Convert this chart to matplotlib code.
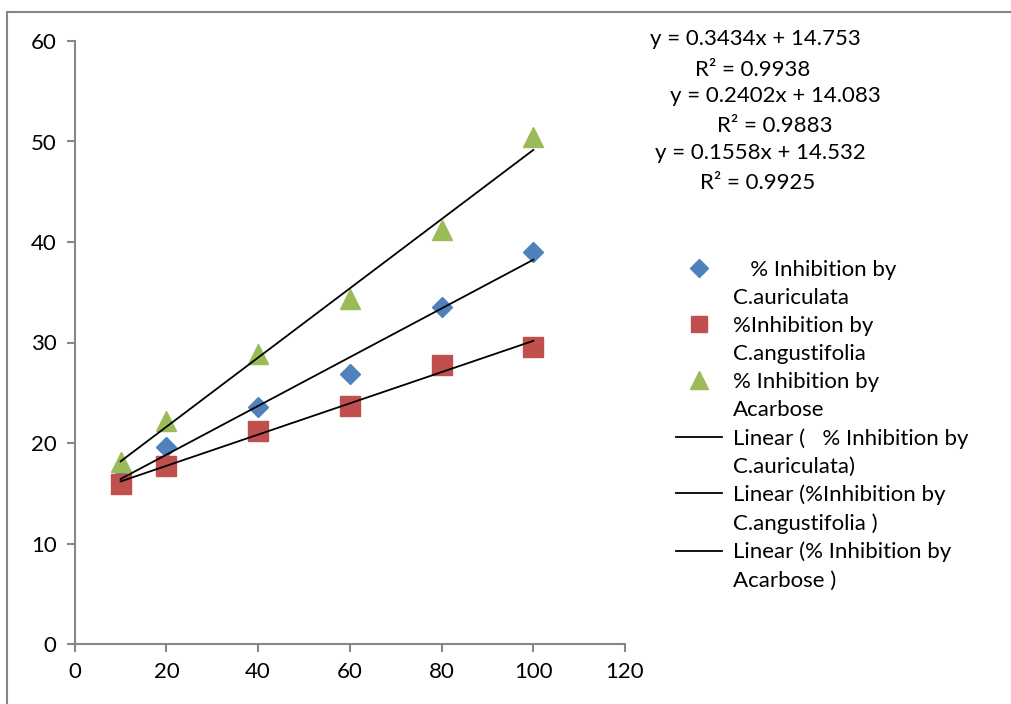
import numpy as np
import matplotlib.pyplot as plt
from matplotlib.lines import Line2D

plt.rcParams['font.family'] = ['Lato', 'DejaVu Sans']

conc = [10, 20, 40, 60, 80, 100]
auriculata = [16.5, 19.6, 23.6, 26.9, 33.5, 39.0]
angustifolia = [15.9, 17.7, 21.2, 23.7, 27.8, 29.6]
acarbose = [18.1, 22.2, 28.9, 34.3, 41.2, 50.4]

names = ['   % Inhibition by\nC.auriculata',
         '%Inhibition by\nC.angustifolia',
         '% Inhibition by\nAcarbose']
trend_names = ['Linear (   % Inhibition by\nC.auriculata)',
               'Linear (%Inhibition by\nC.angustifolia )',
               'Linear (% Inhibition by\nAcarbose )']
equations = ['y = 0.3434x + 14.753', 'R\u00b2 = 0.9938',
             'y = 0.2402x + 14.083', 'R\u00b2 = 0.9883',
             'y = 0.1558x + 14.532', 'R\u00b2 = 0.9925']

W, H = 1012, 704
fig = plt.figure(figsize=(W / 100, H / 100), dpi=100)
ax = fig.add_axes([74.7 / W, 1 - 644 / H, (625 - 74.7) / W, (644 - 41) / H])

series = [(auriculata, '#4F81BD', 'D', 10.5),
          (angustifolia, '#C0504D', 's', 14),
          (acarbose, '#9BBB59', '^', 15)]

x = np.array(conc)
for vals, col, mk, ms in series:
    ax.plot(x, vals, linestyle='none', marker=mk, color=col, markersize=ms)
for vals, col, mk, ms in series:
    k, b = np.polyfit(x, vals, 1)
    ax.plot([x.min(), x.max()], [k * x.min() + b, k * x.max() + b],
            color='black', lw=1.3)

ax.set_xlim(0, 120)
ax.set_ylim(0, 60)
ax.set_xticks(range(0, 121, 20))
ax.set_yticks(range(0, 61, 10))
for s in ['top', 'right']:
    ax.spines[s].set_visible(False)
for s in ['left', 'bottom']:
    ax.spines[s].set_color('#868686')
    ax.spines[s].set_linewidth(1.5)
ax.tick_params(direction='out', length=6, width=1.5, color='#868686',
               labelsize=16, pad=7)

# legend, one row per text line so the handle sits on the first line
blank = Line2D([], [], linestyle='none')
handles, labels = [], []
for (vals, col, mk, ms), nm in zip(series, names):
    first, second = nm.split('\n')
    handles += [Line2D([], [], linestyle='none', marker=mk, color=col,
                       markersize=ms * 0.85), blank]
    labels += [first, second]
for nm in trend_names:
    first, second = nm.split('\n')
    handles += [Line2D([], [], color='black', lw=1.3), blank]
    labels += [first, second]
leg = fig.legend(handles, labels, loc='upper left',
                 bbox_to_anchor=(676 / W, 1 - 260 / H), frameon=False,
                 fontsize=16, handlelength=2.07, handletextpad=0.5,
                 labelspacing=0.36, borderpad=0, borderaxespad=0)

eq_pos = [(755, 39), (753, 70), (775, 96), (775, 126), (760, 153), (758, 183)]
for txt, (px, py) in zip(equations, eq_pos):
    fig.text(px / W, 1 - py / H, txt, ha='center', va='center', fontsize=16)

# outer chart border
fig.add_artist(Line2D([7 / W, 1], [1 - 12 / H, 1 - 12 / H], color='#868686', lw=1.5))
fig.add_artist(Line2D([7 / W, 7 / W], [0, 1 - 12 / H], color='#868686', lw=1.5))

fig.savefig('out.png', dpi=100)
